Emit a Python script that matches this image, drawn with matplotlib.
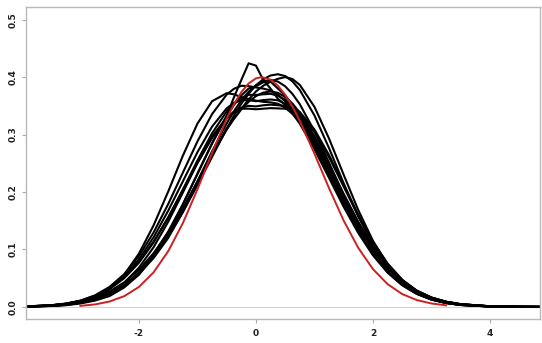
import matplotlib
matplotlib.use("Agg")
import matplotlib.pyplot as plt

# density estimates, all on one x grid
x_grid = [-3.93, -3.5, -3.25, -3.0, -2.75, -2.5, -2.25, -2.0, -1.75, -1.5, -1.25, -1.0, -0.75, -0.5,
          -0.375, -0.25, -0.125, 0.0, 0.125, 0.25, 0.375, 0.5, 0.625, 0.75,
          1.0, 1.25, 1.5, 1.75, 2.0, 2.25, 2.5, 2.75, 3.0, 3.25, 3.5, 4.0, 4.5, 4.86]

dens_01 = [.0005, .0016, .003, .006, .011, .019, .034, .056, .087, .128, .178, .232, .285, .333,
           .365, .395, .424, .42, .395, .38, .3623, .3517, .3371, .3189,
           .2745, .2244, .1742, .1285, .0899, .0598, .0378, .0227, .0129, .0070, .0036, .0008, .0001, 0]
dens_02 = [.0007, .0022, .0043, .0078, .0138, .0230, .0370, .059, .087, .123, .165, .212, .2610, .3105,
           .3332, .3536, .3713, .3857, .3963, .4028, .405, .4018, .3925, .3775,
           .3332, .2762, .2151, .1574, .1082, .0698, .0424, .0241, .0140, .0075, .0040, .0009, .0002, 0]
dens_03 = [.0007, .0022, .0043, .008, .014, .024, .038, .058, .085, .12, .165, .215, .265, .31,
           .328, .345, .361, .375, .385, .392, .397, .400, .3966, .3864,
           .3483, .2929, .2299, .1683, .1150, .0733, .0436, .0242, .0135, .0070, .0035, .0009, .0002, 0]
dens_04 = [.0007, .0022, .0045, .0090, .0175, .0315, .0562, .0928, .1418, .2007, .263, .319, .358, .372,
           .37, .365, .362, .359, .357, .356, .3537, .3469, .3359, .3210,
           .2822, .2355, .1867, .1405, .1004, .0682, .0439, .0269, .0156, .0087, .0045, .0011, .0002, 0]
dens_05 = [.0005, .0018, .0035, .0069, .0128, .0226, .0379, .0603, .0912, .1310, .1786, .2312, .2842, .3319,
           .3517, .3680, .3801, .384, .391, .392, .3801, .3680, .3517, .3319,
           .2842, .2312, .1786, .1310, .0912, .0603, .0379, .0226, .0128, .0069, .0035, .0008, .0002, 0]
dens_06 = [.0009, .0029, .0053, .0096, .0165, .0272, .0428, .0647, .0935, .1295, .1717, .2180, .2650, .3085,
           .3275, .3438, .3571, .3669, .3730, .375, .3726, .3654, .3538, .3382,
           .2972, .2481, .1966, .1480, .1058, .0718, .0463, .0284, .0165, .0091, .0048, .0011, .0002, 0]
dens_07 = [.0007, .0026, .0053, .0103, .0189, .0327, .0535, .0828, .1211, .1673, .2183, .2693, .3138, .3456,
           .355, .3596, .36, .358, .36, .361, .3596, .3535, .343, .3284,
           .2883, .2391, .1874, .1387, .0971, .0642, .0401, .0237, .0132, .0070, .0035, .0007, .0001, 0]
dens_08 = [.0009, .0029, .0058, .0108, .0192, .0324, .0518, .0788, .1136, .1557, .2027, .2504, .2939, .3276,
           .339, .3467, .350, .349, .351, .352, .351, .350, .347, .3392,
           .3089, .2642, .2123, .1602, .1136, .0757, .0474, .0279, .0160, .0088, .0046, .0010, .0002, 0]
dens_09 = [.0008, .0028, .0057, .0110, .0202, .0350, .0572, .0886, .1295, .1789, .2335, .2880, .3356, .3696,
           .3797, .3849, .3843, .382, .38, .3768, .3693, .3577, .3424, .3239,
           .2798, .2305, .1811, .1358, .0971, .0662, .0431, .0267, .0158, .0089, .0048, .0012, .0003, .0001]
dens_10 = [.0006, .0019, .0038, .0073, .0131, .0226, .0372, .0583, .0871, .1241, .1687, .2188, .2707, .3193,
           .3408, .3594, .3745, .3858, .3927, .395, .3922, .3840, .3706, .3527,
           .3060, .2510, .1945, .1424, .0985, .0644, .0398, .0232, .0128, .0067, .0033, .0008, .0001, 0]
dens_11 = [.0008, .0027, .0054, .0102, .0182, .0310, .0501, .0769, .1121, .1552, .2041, .2548, .3022, .3403,
           .3542, .3639, .3691, .369, .370, .371, .3676, .3606, .3491, .3337,
           .2933, .2448, .1940, .1460, .1044, .0709, .0457, .0280, .0162, .0090, .0047, .0011, .0002, 0]
dens_12 = [.0005, .0019, .0038, .0075, .0134, .0245, .0422, .0683, .1038, .1482, .1988, .2505, .2966, .3298,
           .3398, .345, .345, .344, .345, .346, .3455, .345, .3423, .3344,
           .3045, .2604, .2092, .1579, .1120, .0746, .0467, .0275, .0158, .0087, .0045, .0010, .0002, 0]

# reference normal curve (red)
red_x = [-3.0, -2.75, -2.5, -2.25, -2.0, -1.75, -1.5, -1.25, -1.0, -0.75, -0.5,
         -0.375, -0.25, -0.125, 0.0, 0.1, 0.25, 0.375, 0.5, 0.625, 0.75,
         1.0, 1.25, 1.5, 1.75, 2.0, 2.25, 2.5, 2.75, 3.0, 3.25]
red_y = [.0019, .0044, .0095, .0188, .0348, .0601, .0969, .1457, .2046, .2680, .3277,
         .353, .3738, .389, .3978, .400, .3955, .3851, .3692, .3485, .3238,
         .2668, .2065, .1501, .1026, .0658, .0397, .0224, .0119, .0060, .0028]

x_ticks = [-2, 0, 2, 4]
y_ticks = [0.0, 0.1, 0.2, 0.3, 0.4, 0.5]

curves = [dens_01, dens_02, dens_03, dens_04, dens_05, dens_06,
          dens_07, dens_08, dens_09, dens_10, dens_11, dens_12]

fig = plt.figure(figsize=(5.42, 3.43), dpi=100)
ax = fig.add_axes([26 / 542, 1 - 319 / 343, 514 / 542, 312 / 343])

ax.axhline(0, color="#d0d0d0", lw=0.8, zorder=1)
for d in curves:
    ax.plot(x_grid, d, color="black", lw=1.5, solid_joinstyle="round", zorder=2)
ax.plot(red_x, red_y, color="#cc2020", lw=1.4, solid_joinstyle="round", zorder=3)

ax.set_xlim(-3.93, 4.855)
ax.set_ylim(-0.021, 0.522)
ax.set_xticks(x_ticks)
ax.set_yticks(y_ticks)
ax.set_xticklabels([str(t) for t in x_ticks], fontsize=6.5, fontweight="bold", color="#222222")
ax.set_yticklabels(["%.1f" % t for t in y_ticks], fontsize=6.5, fontweight="bold",
                   color="#222222", rotation=90, va="center")
ax.tick_params(axis="both", length=3, width=0.8, color="#aaaaaa")
ax.tick_params(axis="x", pad=4)
ax.tick_params(axis="y", pad=3)
for s in ax.spines.values():
    s.set_color("#b8b8b8")
    s.set_linewidth(1.0)

fig.savefig("out.png", dpi=100)
